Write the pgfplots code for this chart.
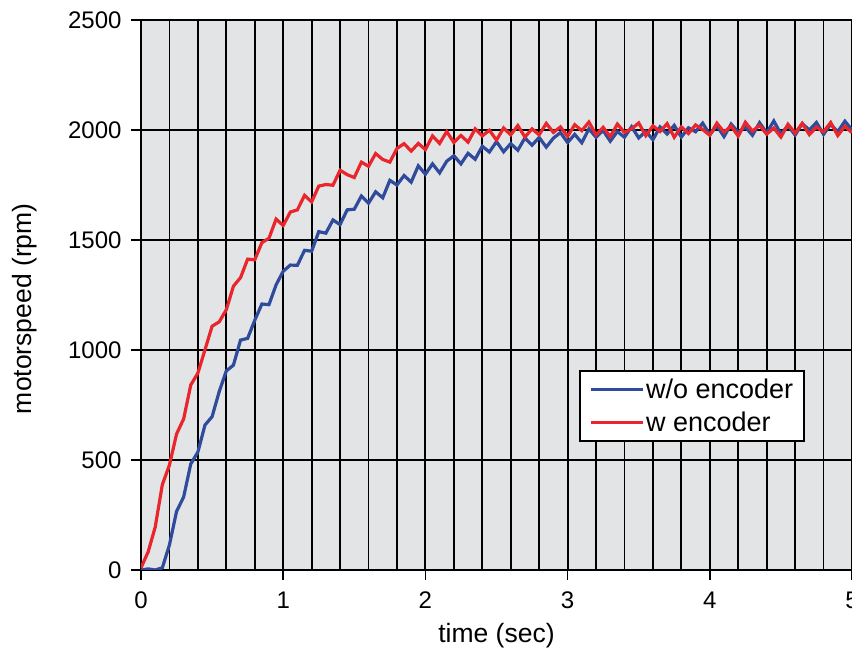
\documentclass[border=0pt]{standalone}
\usepackage{fontspec}
\setmainfont{Liberation Sans}
\usepackage{pgfplots}
\pgfplotsset{compat=1.18}
\usetikzlibrary{calc}
\definecolor{bgGray}{HTML}{E3E4E6}
\definecolor{woBlue}{HTML}{2F4B9B}
\definecolor{wRed}{HTML}{E8262B}

\begin{document}
\begin{tikzpicture}
\begin{axis}[
  name=ax,
  scale only axis,
  width=711pt, height=550pt,
  xmin=0, xmax=5, ymin=0, ymax=2500,
  xtick={0,1,2,3,4,5},
  ytick={0,500,1000,1500,2000,2500},
  minor x tick num=4,
  grid=both,
  ymajorgrids=true, yminorgrids=false,
  major grid style={draw=black, line width=1.8pt},
  minor grid style={draw=black, line width=1.8pt},
  axis line style={draw=black, line width=1.8pt},
  axis background/.style={fill=bgGray},
  tick align=outside,
  major tick length=10pt,
  minor tick length=0pt,
  tick style={draw=black, line width=1.4pt},
  xtick pos=bottom, ytick pos=left,
  /pgf/number format/assume math mode=true,
  /pgf/number format/1000 sep={},
  tick label style={font=\fontsize{24}{28}\selectfont},
  xticklabel style={yshift=-8pt},
  yticklabel style={xshift=-6pt},
  xlabel={time (sec)},
  ylabel={motorspeed (rpm)},
  label style={font=\fontsize{26.5}{30}\selectfont},
  xlabel style={at={(axis description cs:0.5,-0.12)}, anchor=center},
  ylabel style={at={(axis description cs:-0.163,0.475)}, anchor=center, rotate=0},
  legend style={at={(0.934,0.364)}, anchor=north east, draw=black, line width=1.8pt,
    fill=white, font=\fontsize{27}{32}\selectfont, inner xsep=9pt, inner ysep=6pt,
    row sep=8pt},
  legend image code/.code={\draw[#1, line width=3pt] (0pt,0pt) -- (52pt,0pt);},
  legend cell align=left,
]
\addplot[woBlue, line width=3.2pt, line join=miter] coordinates {
(0.00,0) (0.05,5) (0.10,0) (0.15,10) (0.20,114) (0.25,266) (0.30,332) (0.35,482)
(0.40,536) (0.45,659) (0.50,697) (0.55,811) (0.60,905) (0.65,931) (0.70,1045)
(0.75,1053) (0.80,1135) (0.85,1209) (0.90,1206) (0.95,1296) (1.00,1358) (1.05,1386)
(1.10,1385) (1.15,1453) (1.20,1449) (1.25,1538) (1.30,1531) (1.35,1591) (1.40,1570)
(1.45,1637) (1.50,1640) (1.55,1700) (1.60,1667) (1.65,1719) (1.70,1692) (1.75,1771)
(1.80,1750) (1.85,1793) (1.90,1763) (1.95,1837) (2.00,1799) (2.05,1846) (2.10,1805)
(2.15,1858) (2.20,1883) (2.25,1846) (2.30,1894) (2.35,1867) (2.40,1926) (2.45,1900)
(2.50,1947) (2.55,1901) (2.60,1938) (2.65,1908) (2.70,1964) (2.75,1931) (2.80,1966)
(2.85,1922) (2.90,1963) (2.95,1988) (3.00,1943) (3.05,1980) (3.10,1942) (3.15,2005)
(3.20,1967) (3.25,1998) (3.30,1949) (3.35,1993) (3.40,1967) (3.45,2015) (3.50,1964)
(3.55,1994) (3.60,1956) (3.65,2014) (3.70,1982) (3.75,2021) (3.80,1968) (3.85,2010)
(3.90,1992) (3.95,2031) (4.00,1979) (4.05,2019) (4.10,1970) (4.15,2027) (4.20,1990)
(4.25,2013) (4.30,1976) (4.35,2033) (4.40,1987) (4.45,2041) (4.50,1982) (4.55,2020)
(4.60,1977) (4.65,2029) (4.70,2000) (4.75,2034) (4.80,1980) (4.85,2026) (4.90,1992)
(4.95,2040) (5.00,2000)
};
\addlegendentry{w/o encoder}
\addplot[wRed, line width=3.2pt, line join=miter] coordinates {
(0.00,10) (0.05,82) (0.10,195) (0.15,388) (0.20,477) (0.25,618) (0.30,687) (0.35,841)
(0.40,895) (0.45,1001) (0.50,1108) (0.55,1128) (0.60,1183) (0.65,1290) (0.70,1329)
(0.75,1413) (0.80,1410) (0.85,1488) (0.90,1508) (0.95,1595) (1.00,1566) (1.05,1627)
(1.10,1637) (1.15,1703) (1.20,1673) (1.25,1745) (1.30,1752) (1.35,1749) (1.40,1817)
(1.45,1797) (1.50,1784) (1.55,1854) (1.60,1835) (1.65,1893) (1.70,1866) (1.75,1854)
(1.80,1916) (1.85,1938) (1.90,1904) (1.95,1939) (2.00,1911) (2.05,1973) (2.10,1939)
(2.15,1993) (2.20,1943) (2.25,1975) (2.30,1945) (2.35,2005) (2.40,1973) (2.45,1999)
(2.50,1954) (2.55,2009) (2.60,1978) (2.65,2020) (2.70,1968) (2.75,2005) (2.80,1978)
(2.85,2030) (2.90,1989) (2.95,2014) (3.00,1971) (3.05,2024) (3.10,1997) (3.15,2036)
(3.20,1978) (3.25,2012) (3.30,1970) (3.35,2027) (3.40,1989) (3.45,2005) (3.50,2032)
(3.55,1974) (3.60,2019) (3.65,1993) (3.70,2029) (3.75,1967) (3.80,2014) (3.85,1984)
(3.90,2023) (3.95,2002) (4.00,1976) (4.05,2031) (4.10,1990) (4.15,2018) (4.20,1972)
(4.25,2035) (4.30,1995) (4.35,2021) (4.40,1981) (4.45,2009) (4.50,1968) (4.55,2026)
(4.60,1986) (4.65,2030) (4.70,1979) (4.75,2013) (4.80,1992) (4.85,2034) (4.90,1975)
(4.95,2017) (5.00,1988)
};
\addlegendentry{w encoder}
\end{axis}
\pgfresetboundingbox
\path ($(ax.south west)+(-141pt,-82pt)$) rectangle ($(ax.north east)+(0pt,20pt)$);
\end{tikzpicture}
\end{document}
